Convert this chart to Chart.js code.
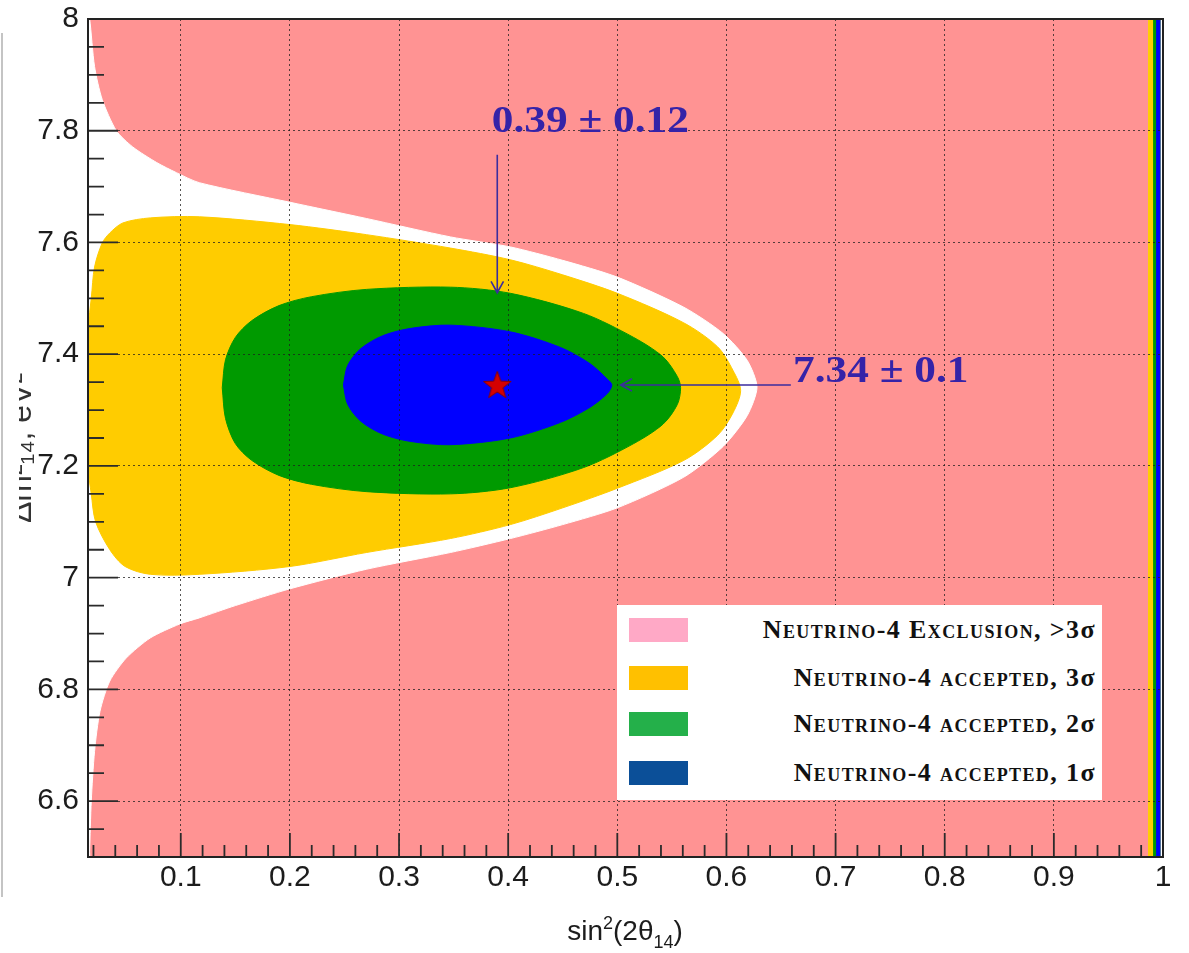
<!DOCTYPE html>
<html>
<head>
<meta charset="utf-8">
<title>Neutrino-4 allowed regions</title>
<script src="https://cdn.jsdelivr.net/npm/chart.js@4.4.1/dist/chart.umd.min.js"></script>
<style>
  body { margin: 0; background: #fff; }
  #wrap { position: relative; width: 1189px; height: 953px; }
  #legend { position: absolute; left: 617px; top: 605px; width: 485px; height: 195px; background: #fff; }
  .row { position: absolute; left: 0; right: 0; height: 24px; }
  .sw { position: absolute; left: 12px; top: 0; width: 59px; height: 24px; }
  .lbl { position: absolute; right: 6px; top: -3px; font: bold 26px 'Liberation Serif', serif; font-variant: small-caps;
         letter-spacing: 1.4px; white-space: nowrap; color: #111; line-height: 30px; }
  .lbl span { font-variant: normal; }
</style>
</head>
<body>
<div id="wrap">
  <canvas id="chart"></canvas>
  <div id="legend"></div>
</div>
<script>
// axis ranges and ticks
const xRange = [0.015, 1.0];
const yRange = [6.5, 8.0];
const xTicks = [0.1, 0.2, 0.3, 0.4, 0.5, 0.6, 0.7, 0.8, 0.9, 1];
const xTickLabels = ['0.1', '0.2', '0.3', '0.4', '0.5', '0.6', '0.7', '0.8', '0.9', '1'];
const yTicks = [6.6, 6.8, 7, 7.2, 7.4, 7.6, 7.8, 8];
const yTickLabels = ['6.6', '6.8', '7', '7.2', '7.4', '7.6', '7.8', '8'];

// contours, points are [sin^2(2theta14), dm^2_14]
// whole plane is excluded (>3 sigma) except this region
const excludedArea = [[0.015, 6.5], [1.0, 6.5], [1.0, 8.0], [0.015, 8.0], [0.015, 6.5]];
const notExcluded = [
  [0.015, 8.0], [0.0165, 8.0], [0.021, 7.915], [0.028, 7.856], [0.041, 7.80], [0.056, 7.771],
  [0.078, 7.743], [0.096, 7.725], [0.117, 7.707], [0.2, 7.672], [0.27, 7.643], [0.347, 7.61],
  [0.402, 7.592], [0.45, 7.568], [0.5, 7.538], [0.561, 7.484], [0.597, 7.437], [0.619, 7.389],
  [0.628, 7.341], [0.619, 7.29], [0.597, 7.235], [0.561, 7.18], [0.5, 7.125], [0.45, 7.095],
  [0.402, 7.07], [0.347, 7.045], [0.27, 7.015], [0.2, 6.98], [0.15, 6.95], [0.117, 6.928],
  [0.099, 6.917], [0.072, 6.892], [0.05, 6.856], [0.035, 6.815], [0.026, 6.761], [0.021, 6.689],
  [0.018, 6.6], [0.0165, 6.51], [0.0165, 6.5], [0.015, 6.5], [0.015, 8.0]
];
const accepted3s = [
  [0.015, 7.45], [0.018, 7.50], [0.021, 7.556], [0.028, 7.599], [0.035, 7.617], [0.047, 7.635],
  [0.072, 7.644], [0.117, 7.646], [0.2, 7.632], [0.27, 7.614], [0.347, 7.59], [0.402, 7.569],
  [0.45, 7.542], [0.5, 7.509], [0.561, 7.456], [0.592, 7.413], [0.606, 7.371], [0.613, 7.335],
  [0.606, 7.295], [0.592, 7.255], [0.561, 7.21], [0.5, 7.16], [0.45, 7.125], [0.402, 7.095],
  [0.347, 7.07], [0.27, 7.045], [0.2, 7.02], [0.117, 7.006], [0.072, 7.006], [0.049, 7.02],
  [0.035, 7.05], [0.022, 7.1], [0.018, 7.15], [0.015, 7.2], [0.015, 7.45]
];
const accepted2s = [
  [0.138, 7.34], [0.141, 7.39], [0.15, 7.43], [0.165, 7.46], [0.19, 7.487], [0.22, 7.503],
  [0.27, 7.516], [0.347, 7.52], [0.402, 7.509], [0.469, 7.473], [0.515, 7.43], [0.542, 7.395],
  [0.555, 7.36], [0.558, 7.34], [0.555, 7.31], [0.542, 7.275], [0.515, 7.24], [0.469, 7.197],
  [0.402, 7.161], [0.347, 7.15], [0.27, 7.154], [0.22, 7.167], [0.19, 7.183], [0.165, 7.21],
  [0.15, 7.24], [0.141, 7.285], [0.138, 7.34]
];
const accepted1s = [
  [0.249, 7.345], [0.253, 7.38], [0.265, 7.41], [0.285, 7.433], [0.31, 7.446], [0.347, 7.452],
  [0.402, 7.44], [0.448, 7.412], [0.475, 7.383], [0.491, 7.355], [0.495, 7.345], [0.491, 7.33],
  [0.475, 7.305], [0.448, 7.278], [0.402, 7.25], [0.347, 7.238], [0.31, 7.244], [0.285, 7.257],
  [0.265, 7.28], [0.253, 7.31], [0.249, 7.345]
];
// narrow bands next to sin^2 = 1
const edgeWhite = [[0.987, 6.5], [1.0, 6.5], [1.0, 8.0], [0.987, 8.0], [0.987, 6.5]];
const edge3s = [[0.987, 6.5], [0.9972, 6.5], [0.9972, 8.0], [0.987, 8.0], [0.987, 6.5]];
const edge2s = [[0.9917, 6.5], [0.9972, 6.5], [0.9972, 8.0], [0.9917, 8.0], [0.9917, 6.5]];
const edge1s = [[0.9945, 6.5], [0.9972, 6.5], [0.9972, 8.0], [0.9945, 8.0], [0.9945, 6.5]];
const bestFit = [0.39, 7.345];

// legend
const legendLabels = ['Neutrino-4 Exclusion, >3σ', 'Neutrino-4 accepted, 3σ', 'Neutrino-4 accepted, 2σ', 'Neutrino-4 accepted, 1σ'];
const legendColors = ['#ffa9c6', '#ffc000', '#24b04a', '#0b4f98'];
const legendRowTops = [13, 61, 107, 156];

// annotation texts and arrows
const notes = [
  { text: '0.39 \u00b1 0.12', at: [0.385, 7.797], from: [0.39, 7.757], to: [0.39, 7.51] },
  { text: '7.34 \u00b1 0.1', at: [0.661, 7.351], from: [0.659, 7.345], to: [0.503, 7.345] }
];

const colors = { excluded: '#ff9393', white: '#ffffff', s3: '#ffcc00', s2: '#009a00', s1: '#0000ff' };

function region(pts, color, order, tension) {
  return {
    data: pts.map(p => ({ x: p[0], y: p[1] })),
    showLine: true,
    fill: 'shape',
    backgroundColor: color,
    borderColor: color,
    borderWidth: 1,
    pointRadius: 0,
    tension: tension,
    order: order
  };
}

// red five-pointed star used as marker
function makeStar() {
  const c = document.createElement('canvas');
  c.width = 32; c.height = 32;
  const g = c.getContext('2d');
  g.beginPath();
  for (let i = 0; i < 10; i++) {
    const r = i % 2 === 0 ? 14.5 : 6;
    const a = -Math.PI / 2 + i * Math.PI / 5;
    g.lineTo(16 + r * Math.cos(a), 17 + r * Math.sin(a));
  }
  g.closePath();
  g.fillStyle = '#d40000';
  g.fill();
  g.strokeStyle = '#8a0000';
  g.lineWidth = 1;
  g.stroke();
  return c;
}

function arrow(ctx, x0, y0, x1, y1) {
  const ang = Math.atan2(y1 - y0, x1 - x0);
  const h = 13, w = 0.5;
  ctx.beginPath();
  ctx.moveTo(x0, y0);
  ctx.lineTo(x1, y1);
  ctx.moveTo(x1 - h * Math.cos(ang - w), y1 - h * Math.sin(ang - w));
  ctx.lineTo(x1, y1);
  ctx.lineTo(x1 - h * Math.cos(ang + w), y1 - h * Math.sin(ang + w));
  ctx.stroke();
}

const decor = {
  id: 'decor',
  afterDraw(chart) {
    const { ctx, chartArea: a } = chart;
    const xs = chart.scales.x, ys = chart.scales.y;
    ctx.save();

    // ticks inside the frame
    ctx.strokeStyle = '#2b2b2b';
    ctx.lineWidth = 1.8;
    ctx.beginPath();
    for (let i = 1; i < 50; i++) {
      const px = xs.getPixelForValue(i * 0.02);
      if (px < a.left + 2) continue;
      const len = i % 5 === 0 ? 24 : 12;
      ctx.moveTo(px, a.bottom);
      ctx.lineTo(px, a.bottom - len);
    }
    for (let i = 1; i < 30; i++) {
      const py = ys.getPixelForValue(6.5 + i * 0.05);
      const len = i % 4 === 2 ? 30 : 16;
      ctx.moveTo(a.left, py);
      ctx.lineTo(a.left + len, py);
    }
    ctx.stroke();

    // frame
    ctx.strokeStyle = '#222';
    ctx.lineWidth = 2;
    ctx.strokeRect(a.left, a.top, a.right - a.left, a.bottom - a.top);

    // annotations
    ctx.strokeStyle = '#3b2d9e';
    ctx.lineWidth = 1.6;
    notes.forEach(n => {
      arrow(ctx, xs.getPixelForValue(n.from[0]), ys.getPixelForValue(n.from[1]),
                 xs.getPixelForValue(n.to[0]), ys.getPixelForValue(n.to[1]));
      ctx.save();
      ctx.translate(xs.getPixelForValue(n.at[0]), ys.getPixelForValue(n.at[1]));
      ctx.scale(1.14, 1);
      ctx.font = 'bold 38px "Liberation Serif", serif';
      ctx.fillStyle = '#3523a8';
      ctx.textAlign = 'left';
      ctx.textBaseline = 'alphabetic';
      ctx.fillText(n.text, 0, 0);
      ctx.restore();
    });

    // x axis title sin^2(2theta_14)
    const parts = [
      ['sin', 28, 0], ['2', 18, -11], ['(2\u03b8', 28, 0], ['14', 18, 8], [')', 28, 0]
    ];
    ctx.fillStyle = '#1c1c1c';
    ctx.textBaseline = 'alphabetic';
    ctx.textAlign = 'left';
    let total = 0;
    parts.forEach(p => { ctx.font = p[1] + 'px "Liberation Sans", Arial'; total += ctx.measureText(p[0]).width; });
    let tx = 625 - total / 2;
    parts.forEach(p => {
      ctx.font = p[1] + 'px "Liberation Sans", Arial';
      ctx.fillText(p[0], tx, 940 + p[2]);
      tx += ctx.measureText(p[0]).width;
    });

    // y axis title, mostly cut off at the left edge
    ctx.save();
    ctx.beginPath();
    ctx.rect(19, 0, 40, chart.height);
    ctx.clip();
    ctx.translate(31, 448);
    ctx.rotate(-Math.PI / 2);
    ctx.font = '32px "Liberation Sans", Arial';
    ctx.fillStyle = '#333';
    ctx.textAlign = 'center';
    ctx.fillText('\u0394m\u00b2\u2081\u2084, eV\u00b2', 0, 0);
    ctx.restore();

    // thin grey border line at the far left
    ctx.strokeStyle = '#c4c4c4';
    ctx.lineWidth = 2;
    ctx.beginPath();
    ctx.moveTo(2, 33);
    ctx.lineTo(2, 897);
    ctx.stroke();

    ctx.restore();
  }
};

const datasets = [
  { data: [{ x: bestFit[0], y: bestFit[1] }], showLine: false, pointStyle: makeStar(), pointRadius: 16, order: 0 },
  region(accepted1s, colors.s1, 1, 0.3),
  region(edge1s, colors.s1, 1, 0),
  region(accepted2s, colors.s2, 2, 0.3),
  region(edge2s, colors.s2, 2, 0),
  region(accepted3s, colors.s3, 3, 0.3),
  region(edge3s, colors.s3, 3, 0),
  region(notExcluded, colors.white, 4, 0.25),
  region(edgeWhite, colors.white, 4, 0),
  region(excludedArea, colors.excluded, 5, 0)
];

// dotted grid, hidden where it would sit on the frame
const gridDots = 'rgba(30,30,30,0.75)';
const xGridColor = c => (c.tick && c.tick.value >= xRange[1]) ? 'rgba(0,0,0,0)' : gridDots;
const yGridColor = c => (c.tick && c.tick.value >= yRange[1]) ? 'rgba(0,0,0,0)' : gridDots;

new Chart(document.getElementById('chart'), {
  type: 'line',
  data: { datasets: datasets },
  options: {
    responsive: true,
    maintainAspectRatio: false,
    animation: false,
    layout: { padding: { top: 19, right: 26, bottom: 0, left: 0 } },
    plugins: { legend: { display: false }, tooltip: { enabled: false } },
    scales: {
      x: {
        type: 'linear', min: xRange[0], max: xRange[1], z: 1,
        afterBuildTicks: s => { s.ticks = xTicks.map(v => ({ value: v })); },
        afterFit: s => { s.height = 96; s.paddingLeft = 0; s.paddingRight = 0; },
        ticks: {
          callback: (v, i) => xTickLabels[i], autoSkip: false, maxRotation: 0,
          font: { family: 'Liberation Sans', size: 30 }, color: '#1c1c1c', padding: 3
        },
        grid: { z: 1, color: xGridColor, lineWidth: 1, drawTicks: false, borderDash: [2, 3] },
        border: { display: false, dash: [2, 3] }
      },
      y: {
        type: 'linear', min: yRange[0], max: yRange[1], z: 1,
        afterBuildTicks: s => { s.ticks = yTicks.map(v => ({ value: v })); },
        afterFit: s => { s.width = 88; s.paddingTop = 0; s.paddingBottom = 0; },
        ticks: {
          callback: (v, i) => yTickLabels[i], autoSkip: false,
          font: { family: 'Liberation Sans', size: 30 }, color: '#1c1c1c', padding: 9
        },
        grid: { z: 1, color: yGridColor, lineWidth: 1, drawTicks: false, borderDash: [2, 3] },
        border: { display: false, dash: [2, 3] }
      }
    }
  },
  plugins: [decor]
});

// legend box (html so the small caps render as text)
const legend = document.getElementById('legend');
legendLabels.forEach((lab, i) => {
  const row = document.createElement('div');
  row.className = 'row';
  row.style.top = legendRowTops[i] + 'px';
  row.innerHTML = '<div class="sw" style="background:' + legendColors[i] + '"></div>' +
    '<div class="lbl">' + lab.replace('σ', '<span>σ</span>') + '</div>';
  legend.appendChild(row);
});
</script>
</body>
</html>
